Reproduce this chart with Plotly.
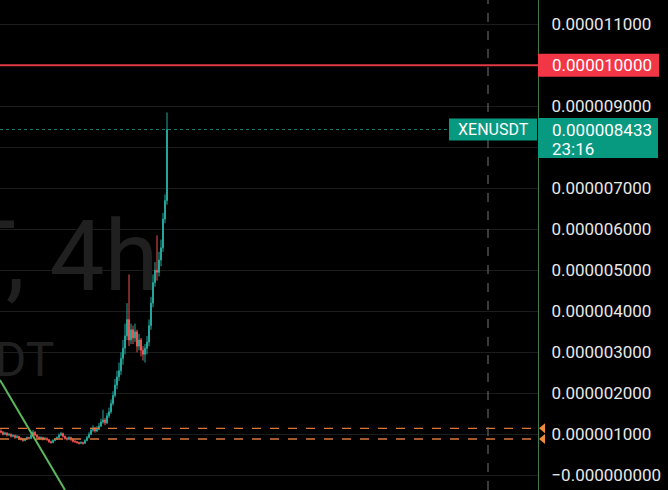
import plotly.graph_objects as go

# ---- data (prices in units of 1e-6 USDT) ----
open_u = [1.08,1.05,1.00,1.03,0.98,1.00,0.95,0.97,0.92,0.95,0.90,0.88,0.85,0.88,0.92,0.90,0.97,1.05,0.98,0.93,
          0.90,0.92,0.88,0.90,0.87,0.82,0.80,0.85,0.88,0.92,0.98,1.02,0.95,0.90,0.88,0.92,0.87,0.83,0.82,0.80,
          0.78,0.80,0.78,0.85,0.92,1.00,1.10,1.15,1.08,1.12,1.20,1.30,1.35,1.28,1.45,1.55,1.75,1.95,2.20,2.40,
          2.55,2.85,3.10,3.40,3.80,3.30,3.55,3.35,3.50,3.15,3.30,3.05,2.95,3.10,3.25,3.65,4.20,4.70,5.00,4.95,
          5.25,5.55,6.25,6.70]
close_u = [1.05,1.00,1.03,0.98,1.00,0.95,0.97,0.92,0.95,0.90,0.88,0.85,0.88,0.92,0.90,0.97,1.05,0.98,0.93,0.90,
           0.92,0.88,0.90,0.87,0.82,0.80,0.85,0.88,0.92,0.98,1.02,0.95,0.90,0.88,0.92,0.87,0.83,0.82,0.80,0.78,
           0.80,0.78,0.85,0.92,1.00,1.10,1.15,1.08,1.12,1.20,1.30,1.35,1.28,1.45,1.55,1.75,1.95,2.20,2.40,2.55,
           2.85,3.10,3.40,3.80,3.30,3.55,3.35,3.50,3.15,3.30,3.05,2.95,3.10,3.25,3.65,4.20,4.70,5.00,4.95,5.25,
           5.55,6.25,6.70,8.433]
high_u = [1.12,1.08,1.06,1.05,1.03,1.02,1.00,0.99,0.98,0.96,0.93,0.90,0.91,0.95,0.94,1.00,1.10,1.07,1.00,0.95,
          0.95,0.94,0.93,0.92,0.89,0.85,0.88,0.91,0.95,1.02,1.06,1.04,0.97,0.93,0.95,0.94,0.89,0.86,0.84,0.82,
          0.83,0.82,0.88,0.96,1.05,1.16,1.22,1.18,1.20,1.28,1.38,1.60,1.40,1.52,1.65,1.85,2.05,2.35,2.55,2.75,
          3.00,3.30,3.70,4.20,4.90,3.70,3.65,3.70,3.55,3.45,3.35,3.15,3.20,3.40,3.80,4.35,4.90,5.20,5.85,5.45,
          5.75,6.40,6.85,8.85]
low_u = [1.02,0.97,0.98,0.95,0.96,0.92,0.93,0.89,0.90,0.87,0.85,0.82,0.83,0.86,0.87,0.89,0.95,0.95,0.90,0.87,
         0.88,0.85,0.86,0.84,0.79,0.77,0.78,0.83,0.86,0.90,0.96,0.92,0.87,0.85,0.86,0.84,0.80,0.79,0.77,0.75,
         0.76,0.75,0.77,0.83,0.90,0.98,1.06,1.04,1.05,1.10,1.18,1.26,1.22,1.25,1.40,1.50,1.70,1.90,2.10,2.30,
         2.45,2.70,2.95,3.30,3.15,3.20,3.20,3.25,3.00,3.05,2.90,2.80,2.75,2.95,3.15,3.55,4.10,4.60,4.75,4.85,
         5.10,5.45,6.15,6.60]

tick_vals_u = [0, 1, 2, 3, 4, 5, 6, 7, 8, 9, 10, 11]
# labels at 8 and 10 are hidden behind the price / alert labels
tick_text = ["\u22120.000000000", "0.000001000", "0.000002000", "0.000003000", "0.000004000",
             "0.000005000", "0.000006000", "0.000007000", "", "0.000009000",
             "", "0.000011000"]

alert_level_u = 10.0
alert_text = "0.000010000"
last_price_u = 8.433
last_price_text = "0.000008433"
countdown_text = "23:16"
symbol = "XENUSDT"
order_levels_u = [1.146, 0.885]
trend_x = [-0.5, 32.0]
trend_y_u = [2.324, -0.3585]

U = 1e-6
scale = lambda arr: [v * U for v in arr]
idx = list(range(len(close_u)))

TEAL = "#26a69a"
RED = "#ef5350"
LBL_TEAL = "#089981"
LBL_RED = "#f23645"
ORANGE = "#f08a3c"
FONT = "Roboto"
W = 668
XD = 538 / W  # plot domain right edge

fig = go.Figure()
fig.add_trace(go.Candlestick(
    x=idx, open=scale(open_u), high=scale(high_u), low=scale(low_u), close=scale(close_u),
    increasing=dict(line=dict(color=TEAL, width=1), fillcolor=TEAL),
    decreasing=dict(line=dict(color=RED, width=1), fillcolor=RED),
    whiskerwidth=0, hoverinfo="skip", showlegend=False))

# trend line
fig.add_trace(go.Scatter(x=trend_x, y=scale(trend_y_u), mode="lines",
                         line=dict(color="#5cb85c", width=2), hoverinfo="skip", showlegend=False))

shapes = []
shapes.append(dict(type="line", xref="paper", yref="y", x0=0, x1=XD, y0=alert_level_u * U, y1=alert_level_u * U,
                   line=dict(color="#e03a44", width=2)))
shapes.append(dict(type="line", xref="paper", yref="y", x0=0, x1=XD, y0=last_price_u * U, y1=last_price_u * U,
                   line=dict(color="rgba(38,166,154,0.75)", width=1, dash="dot")))
for lv in order_levels_u:
    shapes.append(dict(type="line", xref="paper", yref="y", x0=0, x1=XD, y0=lv * U, y1=lv * U,
                       line=dict(color="#d9773a", width=1.3, dash="dash")))
    # small order marker on the price axis
    shapes.append(dict(type="path", xref="paper", yref="y", xsizemode="pixel", ysizemode="pixel",
                       xanchor=XD, yanchor=lv * U, path="M1,0 L7,5 L7,-5 Z",
                       fillcolor=ORANGE, line=dict(width=0), layer="above"))
shapes.append(dict(type="line", xref="paper", yref="paper", x0=488 / W, x1=488 / W, y0=0, y1=1,
                   line=dict(color="#777777", width=1, dash="dash")))
# label boxes (pixel-sized, anchored to their price level)
shapes.append(dict(type="rect", xref="paper", yref="y", x0=XD, x1=659 / W, ysizemode="pixel",
                   yanchor=alert_level_u * U, y0=-11.5, y1=11.5, fillcolor=LBL_RED, line=dict(width=0)))
shapes.append(dict(type="rect", xref="paper", yref="y", x0=449 / W, x1=537 / W, ysizemode="pixel",
                   yanchor=last_price_u * U, y0=-11, y1=11, fillcolor=LBL_TEAL, line=dict(width=0)))
shapes.append(dict(type="rect", xref="paper", yref="y", x0=XD, x1=658 / W, ysizemode="pixel",
                   yanchor=last_price_u * U, y0=-28.5, y1=11.5, fillcolor=LBL_TEAL, line=dict(width=0)))

lbl_font = dict(family=FONT, size=17, color="white")
annotations = [
    # watermark
    dict(xref="paper", yref="paper", x=161 / W, y=1 - 256 / 490, text="XENUSDT, 4h", showarrow=False,
         xanchor="right", yanchor="middle", font=dict(family=FONT, size=98, color="#202020")),
    dict(xref="paper", yref="paper", x=56 / W, y=1 - 359 / 490, text="XEN / USDT", showarrow=False,
         xanchor="right", yanchor="middle", font=dict(family=FONT, size=48, color="#202020")),
    # alert label text
    dict(xref="paper", yref="y", x=551 / W, y=alert_level_u * U, text=alert_text, showarrow=False,
         xanchor="left", yanchor="middle", borderpad=0, font=lbl_font),
    # symbol label text
    dict(xref="paper", yref="y", x=493 / W, y=last_price_u * U, text=symbol, showarrow=False,
         xanchor="center", yanchor="middle", borderpad=0, font=dict(family=FONT, size=16, color="white")),
    # price label text
    dict(xref="paper", yref="y", x=551 / W, y=last_price_u * U, text=last_price_text, showarrow=False,
         xanchor="left", yanchor="middle", borderpad=0, font=lbl_font),
    dict(xref="paper", yref="y", x=551 / W, y=last_price_u * U, yshift=-19, text=countdown_text, showarrow=False,
         xanchor="left", yanchor="middle", borderpad=0, font=lbl_font),
]

fig.update_layout(
    width=668, height=490, margin=dict(l=0, r=0, t=0, b=0, autoexpand=False),
    paper_bgcolor="#000000", plot_bgcolor="#000000",
    showlegend=False, hovermode=False,
    shapes=shapes, annotations=annotations,
    xaxis=dict(domain=[0, XD], range=[-0.5, 268.5], showgrid=False, zeroline=False, showticklabels=False,
               rangeslider=dict(visible=False), fixedrange=True, automargin=False),
    yaxis=dict(side="right", range=[-0.3585 * U, 11.593 * U], tickvals=scale(tick_vals_u), ticktext=tick_text,
               showgrid=True, gridcolor="#1c1c1c", gridwidth=1, zeroline=False, automargin=False,
               showline=True, linecolor="#3d7a4e", linewidth=1, ticks="", ticklabelstandoff=9,
               tickfont=dict(family=FONT, size=17, color="#e8e8e8"), fixedrange=True),
)

fig.write_html("out.html")
